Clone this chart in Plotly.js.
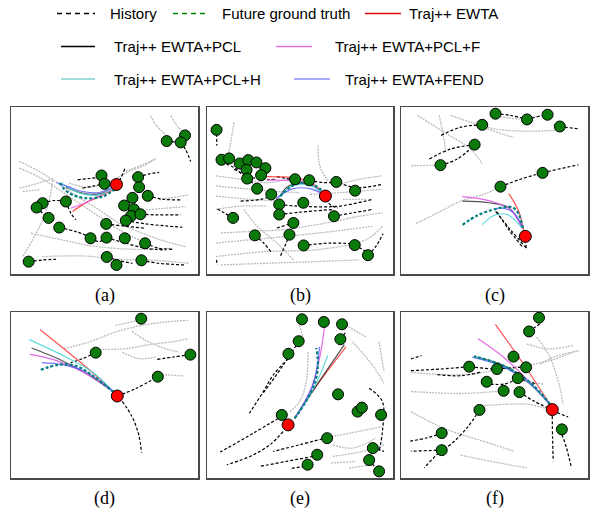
<!DOCTYPE html>
<html><head><meta charset="utf-8">
<script src="https://cdn.plot.ly/plotly-3.0.1.min.js"></script>
<style>html,body{margin:0;padding:0;background:#fff}#chart{width:591px;height:514px}</style>
</head><body><div id="chart"></div>
<script>
// ---------- Legend labels ----------
const legendLabels = ["History","Future ground truth","Traj++ EWTA","Traj++ EWTA+PCL","Traj++ EWTA+PCL+F","Traj++ EWTA+PCL+H","Traj++ EWTA+FEND"];
const panelLabels = ["(a)","(b)","(c)","(d)","(e)","(f)"];

// ---------- Panel (a) ----------
const aGreen = [[558,107],[545,128],[503,124],[307,227],[316,252],[417,232],[420,262],[446,288],[400,294],[375,317],[404,328],[396,348],[424,343],[380,362],[200,305],[130,310],[112,323],[148,354],[180,383],[321,372],[274,415],[322,413],[377,415],[438,430],[88,485],[323,471],[352,495],[427,481]];
const aRed = [352,254];
const aHist = [[[377,207],[365,235],[355,250]],[[235,240],[270,236],[307,232]],[[250,265],[285,258],[316,252]],[[417,232],[450,222],[480,218]],[[503,124],[545,128]],[[545,128],[560,150],[575,185]],[[446,288],[490,298],[545,300]],[[424,343],[470,345],[545,345]],[[380,362],[440,372],[500,378],[550,382]],[[130,310],[165,302],[200,305]],[[112,323],[130,340],[148,354]],[[200,305],[215,340],[230,360]],[[321,372],[370,378],[440,385]],[[274,415],[300,425],[322,413]],[[322,413],[380,430],[440,445],[500,450]],[[438,430],[480,445],[520,448]],[[180,383],[230,395],[270,410]],[[88,485],[130,480],[170,478]],[[323,471],[360,482],[400,490]],[[427,481],[480,490],[560,495]]];
const aGray = [[[455,48],[470,75],[500,105]],[[515,48],[540,85],[575,110]],[[60,185],[120,215],[175,250],[235,290],[300,330],[360,370],[430,400],[500,425],[560,440]],[[60,205],[120,232],[180,270],[240,310],[300,350],[360,390],[420,420]],[[60,265],[100,255],[165,235]],[[160,240],[150,300],[130,360],[100,420],[70,470]],[[210,250],[270,262],[330,245],[390,215],[440,195],[470,175]],[[95,400],[180,418],[280,438],[400,448],[520,445]],[[130,470],[250,468],[360,478],[480,482],[570,490]],[[380,215],[430,195],[470,178]],[[480,300],[540,290],[570,285]],[[440,330],[500,325],[560,320]],[[70,275],[120,270]]];
const aPredRed = [[345,268],[290,295],[250,315],[220,335]];
const aPredPCL = [[345,262],[300,282],[250,280],[200,262]];
const aPredF = [[342,265],[300,288],[255,310],[215,325]];
const aPredH = [[345,262],[300,285],[250,282],[210,265],[185,248]];
const aPredFEND = [[342,260],[300,278],[250,275],[210,262],[172,248]];
const aTruth = [[348,268],[310,290],[260,295],[220,285],[195,268],[180,245]];

// ---------- Panel (b) ----------
const bGreen = [[47,93],[62,182],[85,178],[117,193],[143,183],[168,190],[195,207],[138,212],[140,238],[182,228],[170,268],[213,285],[237,315],[237,345],[285,240],[328,243],[410,248],[467,274],[310,310],[403,350],[280,370],[268,405],[97,355],[163,407],[311,437],[466,436],[506,466]];
const bRed = [377,290];
const bHist = [[[377,300],[395,318],[415,325]],[[47,105],[48,140]],[[62,190],[100,205],[140,240],[175,262]],[[100,210],[140,230],[182,240],[230,240]],[[230,232],[260,238],[285,240]],[[328,243],[370,250],[410,250],[470,265],[550,255]],[[120,305],[180,300],[213,290]],[[237,315],[290,320],[350,322],[420,320],[520,300]],[[237,345],[300,338],[400,330]],[[97,355],[70,340],[45,325]],[[230,385],[280,370]],[[268,405],[258,430],[240,470]],[[311,437],[390,430],[460,432]],[[466,436],[500,455]],[[506,466],[530,440],[552,402]],[[163,407],[190,430],[215,460]],[[403,350],[460,340],[520,330]],[[47,480],[48,495]]];
const bGray = [[[45,230],[120,240],[200,250],[280,240],[350,250]],[[45,260],[130,268],[210,275],[300,280]],[[45,290],[150,300],[250,305]],[[330,285],[420,280],[550,270]],[[60,400],[150,395],[250,390],[380,370],[480,350],[550,340]],[[45,430],[150,420],[260,410],[400,395],[520,380]],[[45,470],[200,455],[350,450],[500,420],[550,380]],[[60,495],[200,490],[350,485],[480,480]],[[100,70],[90,130],[80,180]],[[355,140],[360,200],[385,245]],[[130,330],[170,380],[230,430],[280,480]],[[430,300],[500,300]],[[400,260],[480,240],[550,230]],[[45,330],[120,320],[200,320]]];
const bPredRed = [[377,290],[345,258],[300,238],[250,233],[200,232]];
const bPredPCL = [[374,287],[340,260],[300,252],[262,262],[238,292]];
const bPredF = [[372,286],[335,258],[290,245],[240,243],[200,242]];
const bPredH = [[374,287],[340,262],[300,255],[265,265],[240,292]];
const bPredFEND = [[372,286],[330,268],[280,268],[245,285],[228,298]];
const bTruth = [[376,283],[345,258],[305,250],[272,262],[235,296]];

// ---------- Panel (c) ----------
const cGreen = [[305,45],[400,62],[462,48],[499,83],[265,78],[242,137],[139,198],[447,221],[320,262]];
const cRed = [395,410];
const cHist = [[[395,420],[398,445]],[[398,445],[350,390],[305,335]],[[385,440],[345,390],[310,338]],[[139,198],[190,180],[242,137]],[[242,137],[170,150],[105,180]],[[265,78],[200,85],[140,110]],[[305,45],[350,50],[400,62]],[[400,62],[440,52]],[[499,83],[555,90]],[[320,262],[380,240],[447,221],[555,197]]];
const cGray = [[[50,200],[139,198]],[[65,372],[140,335],[200,305],[270,285],[320,262]],[[70,50],[150,100],[230,150],[265,195]],[[135,50],[148,110],[155,160]],[[170,50],[230,70],[300,90],[400,97],[505,93]],[[280,90],[340,110],[360,115]],[[300,50],[380,60],[480,40]]];
const cPredRed = [[390,395],[375,335],[345,283]];
const cPredPCL = [[387,385],[345,325],[285,310],[205,305]];
const cPredF = [[385,385],[350,330],[290,305],[205,292]];
const cPredH = [[383,383],[340,345],[300,348],[265,375]];
const cPredFEND = [[387,385],[360,340],[320,325],[300,330]];
const cTruth = [[388,385],[370,335],[350,322],[300,330],[250,348],[205,376]];

// ---------- Panel (d) ----------
const dGreen = [[427,40],[290,142],[575,148],[477,214]];
const dRed = [355,272];
const dHist = [[[370,288],[400,335],[420,390],[428,442]],[[355,272],[410,250],[477,214]],[[290,142],[250,160],[215,172]],[[475,162],[525,155],[575,148]]];
const dGray = [[[195,130],[270,110],[350,80],[420,62],[500,50],[570,45]],[[300,132],[380,130],[450,118],[530,108],[570,100]],[[400,78],[440,105],[500,130],[540,140]],[[370,140],[420,160],[470,155]],[[490,208],[555,212]],[[350,60],[420,45]]];
const dPredRed = [[345,260],[255,180],[123,73]];
const dPredPCL = [[345,260],[262,205],[180,162],[97,128]];
const dPredF = [[345,260],[252,200],[170,165],[92,147]];
const dPredH = [[345,260],[280,200],[200,155],[90,103]];
const dPredFEND = [[345,260],[255,197],[190,178],[128,172]];
const dTruth = [[345,262],[282,212],[232,182],[180,178],[120,195]];

// ---------- Panel (e) ----------
const eGreen = [[307,42],[373,50],[428,57],[297,108],[423,102],[266,146],[416,268],[475,320],[488,308],[546,330],[246,330],[383,400],[521,430],[510,466],[353,450],[324,480],[540,500]];
const eRed = [265,360];
const eHist = [[[250,380],[210,420],[150,455],[80,480]],[[266,160],[220,210],[190,260],[148,325]],[[290,120],[250,180],[215,230],[185,270]],[[236,340],[160,385],[60,442]],[[370,402],[300,420],[220,440]],[[340,455],[260,470],[180,485]],[[315,485],[270,492]],[[510,250],[550,290],[550,380],[540,440]],[[521,430],[555,440]],[[510,466],[530,490]],[[423,102],[440,80]]];
const eGray = [[[300,60],[310,100]],[[325,140],[320,230],[300,290],[270,320]],[[440,60],[500,95]],[[460,110],[520,180],[555,235]],[[540,110],[555,200]],[[395,395],[450,385],[550,365]],[[400,420],[460,430],[530,400]],[[400,455],[490,440],[555,420]],[[395,475],[470,470]],[[450,490],[520,480]]];
const ePredRed = [[285,340],[360,230],[440,125]];
const ePredPCL = [[285,340],[355,235],[435,118]];
const ePredF = [[285,340],[335,250],[360,160],[375,65]];
const ePredH = [[285,340],[345,245],[385,150]];
const ePredFEND = [[285,340],[340,240],[360,125]];
const eTruth = [[285,340],[335,260],[355,190],[350,128]];

// ---------- Panel (f) ----------
const fGreen = [[437,42],[407,83],[360,158],[398,190],[226,188],[310,195],[373,222],[279,233],[330,260],[378,264],[257,317],[506,375],[143,386],[143,437]];
const fRed = [477,316];
const fHist = [[[477,335],[478,400],[480,470]],[[506,390],[520,430],[535,490]],[[50,165],[82,155]],[[50,200],[140,195],[226,188]],[[244,190],[292,195]],[[328,193],[380,190]],[[130,212],[200,215],[260,205]],[[373,222],[430,240]],[[378,264],[420,290],[462,310]],[[492,325],[525,338]],[[257,317],[220,370],[170,420],[143,437],[90,490]],[[143,386],[100,400],[48,410]],[[143,437],[50,440]],[[407,83],[440,60]],[[290,240],[330,240],[373,225]]];
const fGray = [[[50,205],[200,212],[330,195],[470,170],[550,140]],[[50,262],[200,268],[330,260]],[[50,322],[150,372],[300,420],[360,440]],[[200,452],[300,472],[400,490]],[[260,305],[400,300],[455,312]],[[430,100],[470,160],[500,250],[510,300]],[[440,180],[480,160],[560,140]],[[400,120],[460,135],[540,125]],[[380,230],[450,240]]];
const fPredRed = [[470,300],[390,180],[305,62]];
const fPredPCL = [[470,300],[405,235],[330,185],[240,157]];
const fPredF = [[470,300],[400,225],[330,160],[253,105]];
const fPredH = [[470,300],[400,230],[330,188],[245,160]];
const fPredFEND = [[470,300],[400,230],[320,185],[235,160]];
const fTruth = [[470,300],[410,235],[330,185],[240,157]];

// Axis ranges of each panel (plot units)
const panelXRange = [[35,597],[18,582],[20,584],[35,598],[20,582],[20,585]];
const panelYRange = [[522,22],[522,25],[522,25],[518,20],[520,20],[520,25]];

// ---------- build ----------
const W = 591, H = 514;
const panels = [
 {green:aGreen, red:aRed, hist:aHist, gray:aGray, preds:[aPredRed,aPredPCL,aPredF,aPredH,aPredFEND], truth:aTruth},
 {green:bGreen, red:bRed, hist:bHist, gray:bGray, preds:[bPredRed,bPredPCL,bPredF,bPredH,bPredFEND], truth:bTruth},
 {green:cGreen, red:cRed, hist:cHist, gray:cGray, preds:[cPredRed,cPredPCL,cPredF,cPredH,cPredFEND], truth:cTruth},
 {green:dGreen, red:dRed, hist:dHist, gray:dGray, preds:[dPredRed,dPredPCL,dPredF,dPredH,dPredFEND], truth:dTruth},
 {green:eGreen, red:eRed, hist:eHist, gray:eGray, preds:[ePredRed,ePredPCL,ePredF,ePredH,ePredFEND], truth:eTruth},
 {green:fGreen, red:fRed, hist:fHist, gray:fGray, preds:[fPredRed,fPredPCL,fPredF,fPredH,fPredFEND], truth:fTruth}
];
const predColors = ['rgba(255,40,40,0.8)','rgba(40,40,40,0.8)','rgba(225,90,225,0.9)','rgba(80,215,215,0.9)','rgba(90,90,255,0.85)'];
const cols = [[11,198],[207,393],[401,588]];
const rows = [[107,274],[312,478]];

function joinLines(lines){
  const x=[], y=[];
  lines.forEach((l,i)=>{ if(i>0){x.push(null);y.push(null);} l.forEach(p=>{x.push(p[0]);y.push(p[1]);}); });
  return {x,y};
}

const traces = [];
const layout = {
  width: W, height: H, margin:{l:0,r:0,t:0,b:0},
  paper_bgcolor:'#fff', plot_bgcolor:'#fff', showlegend:false,
  shapes:[], annotations:[]
};

panels.forEach((p,i)=>{
  const n = i+1;
  const xa = 'x'+(n===1?'':n), ya = 'y'+(n===1?'':n);
  const c = cols[i%3], r = rows[Math.floor(i/3)];
  layout['xaxis'+(n===1?'':n)] = {domain:[c[0]/W, c[1]/W], range:panelXRange[i], showline:true, mirror:true, linecolor:'#4a4a4a', linewidth:1.5, showgrid:false, zeroline:false, showticklabels:false, ticks:'', fixedrange:true, anchor:ya};
  layout['yaxis'+(n===1?'':n)] = {domain:[1-r[1]/H, 1-r[0]/H], range:panelYRange[i], showline:true, mirror:true, linecolor:'#4a4a4a', linewidth:1.5, showgrid:false, zeroline:false, showticklabels:false, ticks:'', fixedrange:true, anchor:xa};
  const g = joinLines(p.gray);
  traces.push({type:'scatter', mode:'lines', x:g.x, y:g.y, xaxis:xa, yaxis:ya, line:{color:'#bcbcbc', width:1.3, dash:'2px,1px', shape:'spline'}, hoverinfo:'skip'});
  const h = joinLines(p.hist);
  traces.push({type:'scatter', mode:'lines', x:h.x, y:h.y, xaxis:xa, yaxis:ya, line:{color:'#000', width:1.2, dash:'3px,2px', shape:'spline'}, hoverinfo:'skip'});
  p.preds.forEach((pr,k)=>{
    const q = joinLines([pr]);
    traces.push({type:'scatter', mode:'lines', x:q.x, y:q.y, xaxis:xa, yaxis:ya, line:{color:predColors[k], width:1.2, shape:'spline'}, hoverinfo:'skip'});
  });
  const t = joinLines([p.truth]);
  traces.push({type:'scatter', mode:'lines', x:t.x, y:t.y, xaxis:xa, yaxis:ya, line:{color:'#008080', width:2.2, dash:'3px,2px', shape:'spline'}, hoverinfo:'skip'});
  traces.push({type:'scatter', mode:'markers', x:p.green.map(v=>v[0]), y:p.green.map(v=>v[1]), xaxis:xa, yaxis:ya, marker:{color:'#0a7a0a', size:11, line:{color:'#000', width:1}}, hoverinfo:'skip'});
  traces.push({type:'scatter', mode:'markers', x:[p.red[0]], y:[p.red[1]], xaxis:xa, yaxis:ya, marker:{color:'#ff0000', size:12, line:{color:'#000', width:1}}, hoverinfo:'skip'});
  layout.annotations.push({xref:'paper', yref:'paper', x:(c[0]+c[1])/2/W, y:1-(i<3?295:498)/H, text:panelLabels[i], showarrow:false, xanchor:'center', yanchor:'middle', font:{family:'Liberation Serif', size:18, color:'#000'}});
});

// legend (drawn as shapes + text)
const legItems = [
  {x0:57,x1:95,y:13.5,color:'#000',dash:'5px,4px',tx:108},
  {x0:173,x1:207,y:13.5,color:'#008000',dash:'5px,4px',tx:220},
  {x0:365,x1:401,y:13.5,color:'#e00000',dash:'solid',tx:407},
  {x0:61,x1:95,y:46.5,color:'#000',dash:'solid',tx:112},
  {x0:276,x1:312,y:46.5,color:'#e070e0',dash:'solid',tx:333},
  {x0:61,x1:95,y:79,color:'#80d0d0',dash:'solid',tx:112},
  {x0:294,x1:330,y:79,color:'#8c8cff',dash:'solid',tx:343}
];
legItems.forEach((it,k)=>{
  layout.shapes.push({type:'line', xref:'paper', yref:'paper', x0:it.x0/W, x1:it.x1/W, y0:1-it.y/H, y1:1-it.y/H, line:{color:it.color, width:1.5, dash:it.dash}});
  layout.annotations.push({xref:'paper', yref:'paper', x:it.tx/W, y:1-it.y/H, text:legendLabels[k], showarrow:false, xanchor:'left', yanchor:'middle', font:{family:'Liberation Sans', size:15, color:'#000'}});
});

Plotly.newPlot('chart', traces, layout, {staticPlot:true, displayModeBar:false});
</script></body></html>
